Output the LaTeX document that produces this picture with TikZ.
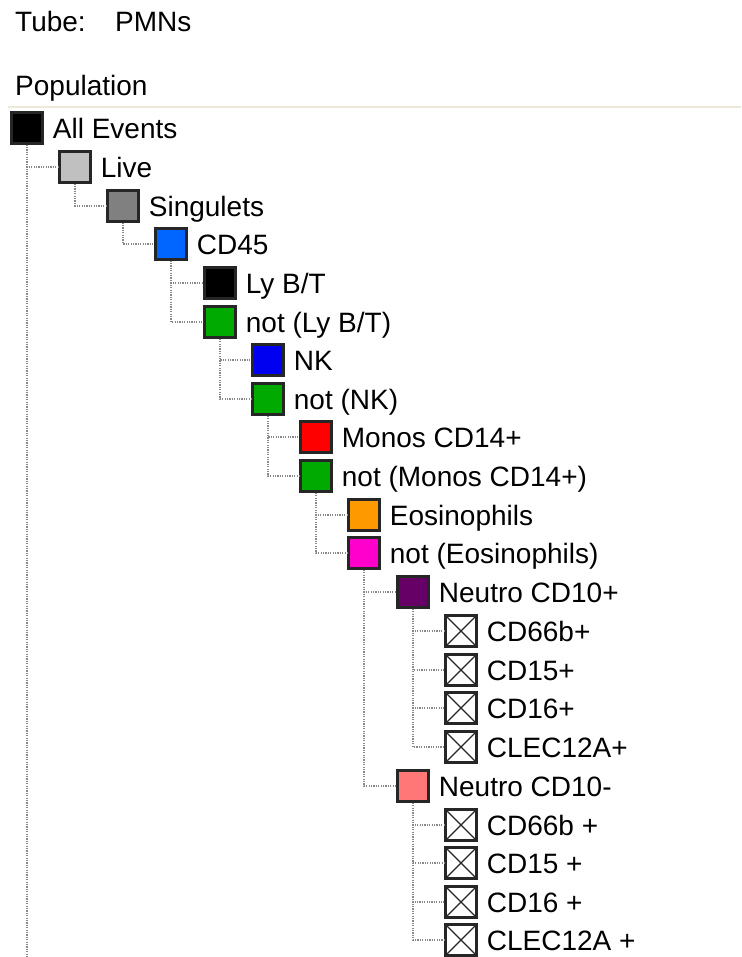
\documentclass[tikz,border=0pt]{standalone}
\usepackage{fontspec}
\setmainfont{Liberation Sans}
\definecolor{cLive}{HTML}{C0C0C0}
\definecolor{cSing}{HTML}{808080}
\definecolor{cCD}{HTML}{0066FF}
\definecolor{cGreen}{HTML}{00AA00}
\definecolor{cNK}{HTML}{0000F0}
\definecolor{cRed}{HTML}{FF0000}
\definecolor{cOrange}{HTML}{FF9900}
\definecolor{cMag}{HTML}{FF00CC}
\definecolor{cPurp}{HTML}{660066}
\definecolor{cSalm}{HTML}{FF7777}
\definecolor{cRule}{HTML}{ECE9D8}
\definecolor{cDot}{HTML}{888888}
\begin{document}
\begin{tikzpicture}[x=1pt,y=-1pt,
  box/.style={draw=black!85,line width=2.4pt,minimum size=31pt,inner sep=0pt},
  xbox/.style={box,fill=white,path picture={\draw[line width=1.1pt]
     (path picture bounding box.north west)--(path picture bounding box.south east)
     (path picture bounding box.north east)--(path picture bounding box.south west);}},
  lab/.style={anchor=base west,inner sep=0pt,font=\fontsize{28}{32}\selectfont},
  conn/.style={cDot,line width=1.2pt,dash pattern=on 1.2pt off 1.2pt}]
\useasboundingbox (0,0) rectangle (741,957);
\node[lab] (tube) at (15,32) {Tube:};
\node[lab] (pmns) at (115,32) {PMNs};
\node[lab] (pop) at (15,96) {Population};
\coordinate (rl) at (8,107);
\coordinate (rr) at (741,107);
\draw[cRule,line width=2pt] (rl) -- (rr);
% connectors first, boxes drawn over them
\coordinate (aeend) at (27,957);
\newcommand{\row}[5]{%
  \node[#4] (#1) at (#2,#3) {};
  \node[lab] (#1t) at ([xshift=9pt,yshift=-10.5pt]#1.east) {#5};}
\row{ae}{27}{128}{box,fill=black}{All Events}
\row{live}{75}{167}{box,fill=cLive}{Live}
\row{sing}{123}{206}{box,fill=cSing}{Singulets}
\row{cd}{171}{244}{box,fill=cCD}{CD45}
\row{ly}{220}{283}{box,fill=black}{Ly B/T}
\row{nly}{220}{322}{box,fill=cGreen}{not (Ly B/T)}
\row{nk}{268}{360}{box,fill=cNK}{NK}
\row{nnk}{268}{399}{box,fill=cGreen}{not (NK)}
\row{mo}{316}{437}{box,fill=cRed}{Monos CD14+}
\row{nmo}{316}{476}{box,fill=cGreen}{not (Monos CD14+)}
\row{eo}{364}{515}{box,fill=cOrange}{Eosinophils}
\row{neo}{364}{553}{box,fill=cMag}{not (Eosinophils)}
\row{np}{413}{592}{box,fill=cPurp}{Neutro CD10+}
\row{pa}{461}{631}{xbox}{CD66b+}
\row{pb}{461}{670}{xbox}{CD15+}
\row{pc}{461}{708}{xbox}{CD16+}
\row{pd}{461}{747}{xbox}{CLEC12A+}
\row{nm}{413}{786}{box,fill=cSalm}{Neutro CD10-}
\row{ma}{461}{825}{xbox}{CD66b +}
\row{mb}{461}{863}{xbox}{CD15 +}
\row{mc}{461}{902}{xbox}{CD16 +}
\row{md}{461}{940}{xbox}{CLEC12A +}
\draw[conn] (ae.south) -- (aeend);
\draw[conn] (ae.south) |- (live.west);
\draw[conn] (live.south) |- (sing.west);
\draw[conn] (sing.south) |- (cd.west);
\draw[conn] (cd.south) |- (ly.west);
\draw[conn] (cd.south) |- (nly.west);
\draw[conn] (nly.south) |- (nk.west);
\draw[conn] (nly.south) |- (nnk.west);
\draw[conn] (nnk.south) |- (mo.west);
\draw[conn] (nnk.south) |- (nmo.west);
\draw[conn] (nmo.south) |- (eo.west);
\draw[conn] (nmo.south) |- (neo.west);
\draw[conn] (neo.south) |- (np.west);
\draw[conn] (neo.south) |- (nm.west);
\draw[conn] (np.south) |- (pa.west);
\draw[conn] (np.south) |- (pb.west);
\draw[conn] (np.south) |- (pc.west);
\draw[conn] (np.south) |- (pd.west);
\draw[conn] (nm.south) |- (ma.west);
\draw[conn] (nm.south) |- (mb.west);
\draw[conn] (nm.south) |- (mc.west);
\draw[conn] (nm.south) |- (md.west);
\end{tikzpicture}
\end{document}
